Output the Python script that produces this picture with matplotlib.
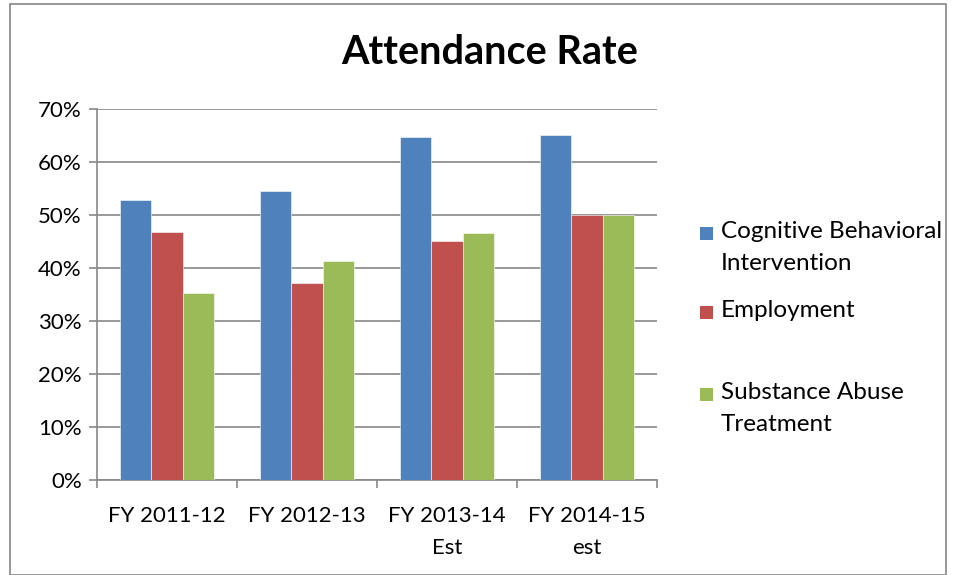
import matplotlib
matplotlib.use("Agg")
import matplotlib.pyplot as plt
import numpy as np
from matplotlib.ticker import FuncFormatter, FixedLocator
from matplotlib.patches import Rectangle

categories = ["FY 2011-12", "FY 2012-13", "FY 2013-14\nEst", "FY 2014-15\nest"]
series_names = ["Cognitive Behavioral\nIntervention", "Employment", "Substance Abuse\nTreatment"]
cbi = [52.8, 54.5, 64.8, 65.0]
employment = [46.8, 37.1, 45.0, 50.0]
sat = [35.2, 41.3, 46.6, 50.0]
colors = ["#4F81BD", "#C0504D", "#9BBB59"]

plt.rcParams['font.family'] = ['Lato', 'DejaVu Sans']

W, H = 956, 575
fig = plt.figure(figsize=(W / 100, H / 100), dpi=100)
fig.patches.append(Rectangle((10/W, 0), 1 - 20/W, 1 - 4/H, transform=fig.transFigure,
                             fill=False, edgecolor="#868686", linewidth=1.2))

ax = fig.add_axes([97/W, (H-480)/H, 560/W, (480-109)/H])
x = np.arange(len(categories))
w = 0.222
for i, (vals, c) in enumerate(zip([cbi, employment, sat], colors)):
    ax.bar(x + (i - 1) * w, vals, width=w, color=c, edgecolor="white", linewidth=0.4,
           label=series_names[i], zorder=3)

ax.set_xlim(-0.5, len(categories) - 0.5)
ax.set_ylim(0, 70)
ax.yaxis.set_major_locator(FixedLocator(np.arange(0, 71, 10)))
ax.yaxis.set_major_formatter(FuncFormatter(lambda v, p: f"{int(v)}%"))
ax.grid(axis="y", color="#888888", linewidth=1.2, zorder=0)
ax.set_xticks(x)
ax.set_xticklabels(categories, fontsize=16, linespacing=1.75)
ax.set_xticks(np.arange(-0.5, len(categories)), minor=True)
ax.tick_params(axis="x", which="major", length=0, pad=19)
ax.tick_params(axis="x", which="minor", length=6, color="#888888", width=1.2)
ax.tick_params(axis="y", length=6, color="#888888", width=1.2, labelsize=16, pad=5)
for s in ["top", "right"]:
    ax.spines[s].set_visible(False)
for s in ["left", "bottom"]:
    ax.spines[s].set_color("#888888")
    ax.spines[s].set_linewidth(1.2)

fig.text(490/W, 1 - 53/H, "Attendance Rate", ha="center", va="center",
         fontsize=28.5, fontweight="bold")

# legend (square aligned with the first line of each label)
leg_y = [233, 312, 394]
for name, c, yy in zip(series_names, colors, leg_y):
    fig.patches.append(Rectangle((700/W, 1 - (yy + 7)/H), 13/W, 13/H,
                                 transform=fig.transFigure, facecolor=c, edgecolor="none"))
    fig.text(721/W, 1 - (yy - 12)/H, name, ha="left", va="top", fontsize=17.5,
             linespacing=1.65)

fig.savefig("out.png", dpi=100)
